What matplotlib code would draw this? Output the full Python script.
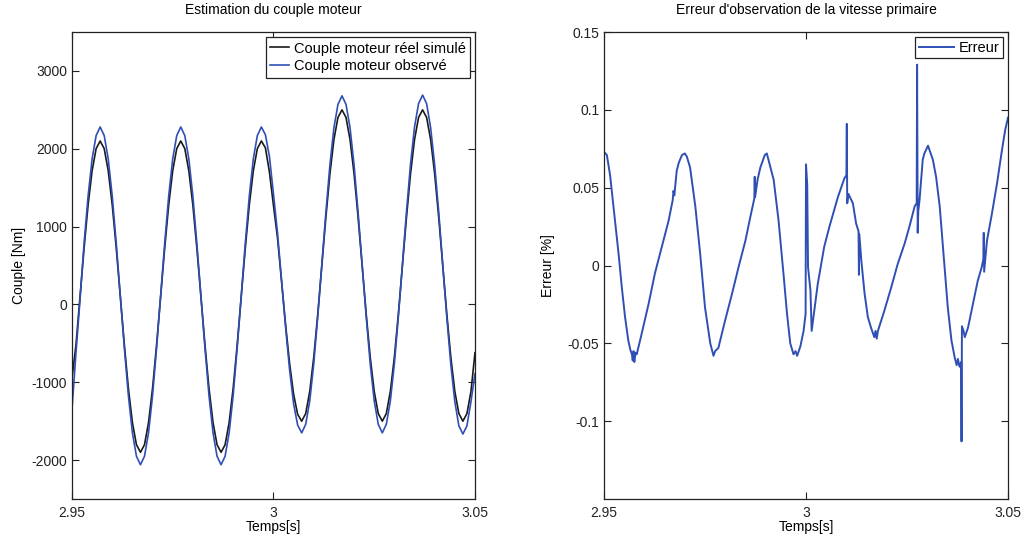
import numpy as np
import matplotlib
matplotlib.use('Agg')
import matplotlib.pyplot as plt

plt.rcParams['font.family'] = ['Liberation Sans', 'DejaVu Sans']
plt.rcParams['font.size'] = 10
plt.rcParams['axes.unicode_minus'] = False

# --- left plot: torque, sampled every 1 ms from 2.95 s to 3.05 s ---
t_couple = np.linspace(2.95, 3.05, 101)

couple_reel = [
    -950, -518, 100, 718, 1276, 1718, 2002, 2100, 2002, 1718,
    1276, 718, 100, -518, -1076, -1518, -1802, -1900, -1802, -1518,
    -1076, -518, 100, 718, 1276, 1718, 2002, 2100, 2002, 1718,
    1276, 718, 100, -518, -1076, -1518, -1802, -1900, -1802, -1518,
    -1076, -518, 100, 718, 1276, 1718, 2002, 2100, 2012, 1700,
    1270, 856, 300, -256, -758, -1156, -1412, -1500, -1402, -1118,
    -676, -118, 500, 1118, 1676, 2118, 2402, 2500, 2402, 2118,
    1676, 1118, 500, -118, -676, -1118, -1402, -1500, -1402, -1118,
    -676, -118, 500, 1118, 1676, 2118, 2402, 2500, 2402, 2118,
    1676, 1118, 500, -118, -676, -1118, -1402, -1500, -1402, -1118,
    -620,
]

couple_observe = [
    -1350, -620, 60, 780, 1390, 1870, 2170, 2280, 2170, 1870,
    1390, 780, 110, -560, -1170, -1650, -1950, -2060, -1950, -1650,
    -1170, -560, 110, 780, 1390, 1870, 2170, 2280, 2170, 1870,
    1390, 780, 110, -560, -1170, -1650, -1950, -2060, -1950, -1650,
    -1170, -560, 110, 780, 1390, 1870, 2170, 2280, 2180, 1900,
    1420, 920, 315, -290, -840, -1280, -1550, -1650, -1540, -1240,
    -760, -150, 515, 1180, 1790, 2270, 2570, 2680, 2570, 2270,
    1790, 1180, 515, -150, -760, -1240, -1540, -1650, -1540, -1240,
    -760, -150, 520, 1190, 1800, 2280, 2580, 2690, 2580, 2270,
    1790, 1190, 510, -160, -770, -1250, -1560, -1665, -1560, -1250,
    -890,
]

# --- right plot: observation error, time in ms after 2.95 s ---
err_ms = [
    0, 0.7, 1.5, 2.7, 3.6, 4.4, 5.2, 6.0, 6.5, 6.9, 7.1, 7.3, 7.5, 7.8, 8.1,
    9.3, 11.0, 12.6, 14.3, 16.0, 16.6, 17.0, 17.2, 17.4, 18.0, 18.5, 19.3,
    20.0, 20.5, 21.3, 22.6, 23.8, 25.0, 26.3, 27.1, 27.5, 28.3, 30.0, 31.7,
    33.3, 35.0, 36.2, 37.2, 37.3, 37.4, 38.0, 38.7, 39.8, 40.3, 40.7, 42.0,
    43.2, 44.5, 45.3, 46.1, 46.9, 47.4, 47.8, 48.6, 49.4, 49.9, 50.0, 50.3,
    50.5, 51.1, 51.4, 52.9, 54.5, 55.8, 57.9, 58.7, 59.5, 60.0, 60.1, 60.2,
    60.5, 61.6, 62.4, 63.0, 63.1, 63.2, 63.7, 64.5, 65.3, 66.1, 66.9, 67.2,
    67.5, 67.8, 69.4, 71.1, 72.7, 74.4, 75.6, 76.9, 77.4, 77.5, 77.65, 77.8,
    78.1, 78.9, 79.3, 80.2, 81.4, 82.2, 83.1, 84.3, 85.1, 86.0, 86.8, 87.3,
    87.6, 88.0, 88.4, 88.5, 88.6, 89.0, 89.3, 90.1, 91.3, 92.5, 93.5, 93.9,
    94.0, 94.1, 94.8, 96.0, 97.3, 98.5, 99.3, 100.0,
]
erreur = [
    0.073, 0.071, 0.058, 0.029, 0.0075, -0.014, -0.033, -0.048, -0.054, -0.057, -0.061, -0.055, -0.062, -0.056, -0.057,
    -0.044, -0.025, -0.005, 0.012, 0.029, 0.037, 0.042, 0.048, 0.045, 0.061, 0.066, 0.071,
    0.072, 0.070, 0.063, 0.038, 0.0075, -0.027, -0.050, -0.058, -0.055, -0.053, -0.035, -0.018,
    -0.001, 0.016, 0.031, 0.043, 0.057, 0.044, 0.055, 0.063, 0.071, 0.072, 0.068, 0.055,
    0.029, -0.0075, -0.031, -0.050, -0.057, -0.055, -0.058, -0.052, -0.042, -0.031, 0.065, 0.052,
    -0.001, -0.016, -0.042, -0.012, 0.012, 0.025, 0.044, 0.050, 0.056, 0.058, 0.091, 0.040,
    0.046, 0.040, 0.027, 0.022, -0.006, 0.020, 0.003, -0.018, -0.033, -0.040, -0.046, -0.042,
    -0.047, -0.042, -0.029, -0.014, 0.001, 0.014, 0.025, 0.038, 0.040, 0.129, 0.021, 0.035,
    0.042, 0.068, 0.072, 0.077, 0.068, 0.057, 0.038, -0.001, -0.027, -0.048, -0.059, -0.064,
    -0.060, -0.065, -0.062, -0.113, -0.039, -0.042, -0.046, -0.040, -0.025, -0.010, -0.001, 0.004,
    0.021, -0.004, 0.016, 0.033, 0.053, 0.074, 0.087, 0.095,
]

x_ticks = [2.95, 3.0, 3.05]
x_tick_labels = ['2.95', '3', '3.05']
couple_ticks = [-2000, -1000, 0, 1000, 2000, 3000]
err_ticks = [-0.1, -0.05, 0, 0.05, 0.1, 0.15]
err_tick_labels = ['-0.1', '-0.05', '0', '0.05', '0.1', '0.15']

BLUE = '#2f4fb4'


def style_axes(ax):
    # matlab look: ticks inside, on all four sides
    ax.tick_params(direction='in', top=True, right=True, length=5, width=0.8,
                   colors='#222222', labelsize=10)
    ax.tick_params(axis='x', pad=5)
    for sp in ax.spines.values():
        sp.set_linewidth(0.9)
        sp.set_color('#222222')
    ax.set_xlim(2.95, 3.05)
    ax.set_xticks(x_ticks, x_tick_labels)
    ax.set_xlabel('Temps[s]', labelpad=0)


fig = plt.figure(figsize=(10.25, 5.4), dpi=100)
ax1 = fig.add_axes([0.0702, 0.0759, 0.3932, 0.8648])
ax2 = fig.add_axes([0.5893, 0.0759, 0.3941, 0.8648])

ax1.plot(t_couple, couple_reel, color='#1a1a1a', lw=1.2, label='Couple moteur réel simulé')
ax1.plot(t_couple, couple_observe, color=BLUE, lw=1.2, label='Couple moteur observé')
style_axes(ax1)
ax1.set_ylim(-2500, 3500)
ax1.set_yticks(couple_ticks, [str(v) for v in couple_ticks])
ax1.set_ylabel('Couple [Nm]', labelpad=4)
ax1.set_title('Estimation du couple moteur', fontsize=10, pad=13)
leg1 = ax1.legend(loc='upper right', fancybox=False, framealpha=1, edgecolor='#222222',
                  handlelength=1.3, handletextpad=0.3, borderpad=0.3, labelspacing=0.25,
                  borderaxespad=0.35, fontsize=10.5)
leg1.get_frame().set_linewidth(0.9)

ax2.plot(2.95 + np.array(err_ms) / 1000, erreur, color=BLUE, lw=1.4, label='Erreur')
style_axes(ax2)
ax2.set_ylim(-0.15, 0.15)
ax2.set_yticks(err_ticks, err_tick_labels)
ax2.set_ylabel('Erreur [%]', labelpad=9)
ax2.set_title("Erreur d'observation de la vitesse primaire", fontsize=10, pad=13)
leg2 = ax2.legend(loc='upper right', fancybox=False, framealpha=1, edgecolor='#222222',
                  handlelength=2.4, handletextpad=0.3, borderpad=0.25,
                  borderaxespad=0.35, fontsize=10.5)
leg2.get_frame().set_linewidth(0.9)

fig.savefig('out.png', dpi=100)
